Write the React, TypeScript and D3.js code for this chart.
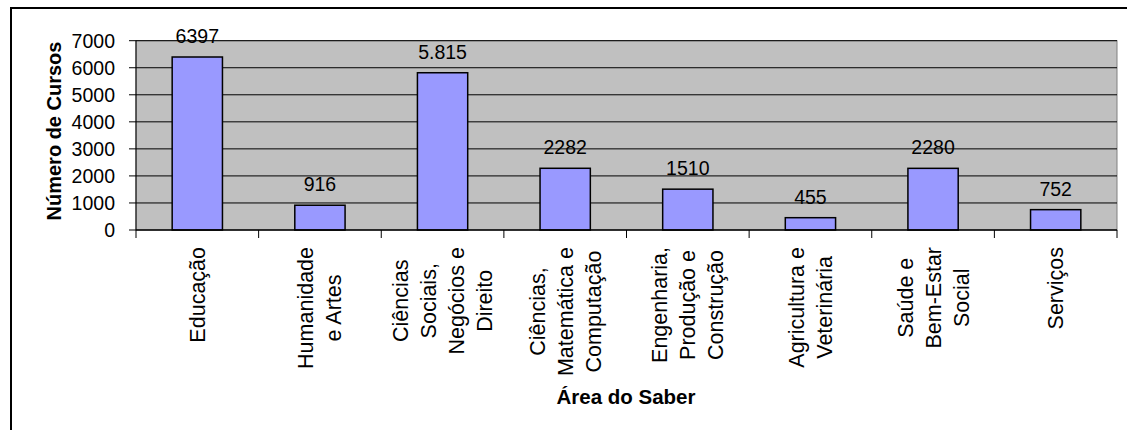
import React from "react";
import * as d3 from "d3";

const categories = [
  ["Educação"],
  ["Humanidade", "e Artes"],
  ["Ciências", "Sociais,", "Negócios e", "Direito"],
  ["Ciências,", "Matemática e", "Computação"],
  ["Engenharia,", "Produção e", "Construção"],
  ["Agricultura e", "Veterinária"],
  ["Saúde e", "Bem-Estar", "Social"],
  ["Serviços"],
];
const values = [6397, 916, 5815, 2282, 1510, 455, 2280, 752];
const valueLabels = ["6397", "916", "5.815", "2282", "1510", "455", "2280", "752"];
const yTicks = [0, 1000, 2000, 3000, 4000, 5000, 6000, 7000];

const FONT = '"Liberation Sans", Arial, sans-serif';
const catSize = 21.5;

let ctx: CanvasRenderingContext2D | null = null;
function textWidth(s: string, size: number) {
  if (!ctx) ctx = document.createElement("canvas").getContext("2d");
  if (!ctx) return s.length * size * 0.55;
  ctx.font = `${size}px "Liberation Sans", Arial`;
  return ctx.measureText(s).width;
}

export default function App() {
  const left = 136;
  const right = 1117;
  const top = 40.7;
  const bottom = 230;

  const x = d3
    .scaleBand<number>()
    .domain(d3.range(values.length))
    .range([left, right])
    .padding(0);
  const y = d3.scaleLinear().domain([0, 7000]).range([bottom, top]);
  const barW = x.bandwidth() * 0.41;

  return (
    <svg
      width={1127}
      height={430}
      style={{ position: "absolute", left: 0, top: 0, fontFamily: FONT }}
    >
      <rect x={0} y={0} width={1127} height={430} fill="#fff" />
      <rect x={11} y={8} width={1130} height={440} fill="none" stroke="#000" strokeWidth={2} />

      <rect x={left} y={top} width={right - left} height={bottom - top} fill="#c0c0c0" stroke="#808080" strokeWidth={1} />
      {yTicks.slice(1).map((t) => (
        <line key={t} x1={left} x2={right} y1={y(t)} y2={y(t)} stroke="#000" strokeWidth={1} />
      ))}

      {values.map((v, i) => {
        const cx = (x(i) as number) + x.bandwidth() / 2;
        return (
          <g key={i}>
            <rect
              x={cx - barW / 2}
              y={y(v)}
              width={barW}
              height={bottom - y(v)}
              fill="#9999ff"
              stroke="#000"
              strokeWidth={1.5}
            />
            <text x={cx} y={y(v) - 14} textAnchor="middle" fontSize={19.5} fill="#000">
              {valueLabels[i]}
            </text>
          </g>
        );
      })}

      {/* axes */}
      <line x1={left} x2={left} y1={top} y2={bottom} stroke="#000" strokeWidth={1} />
      <line x1={left} x2={right} y1={bottom} y2={bottom} stroke="#000" strokeWidth={1.5} />
      {yTicks.map((t) => (
        <g key={t}>
          <line x1={left - 7} x2={left} y1={y(t)} y2={y(t)} stroke="#000" />
          <text x={115} y={y(t)} dy="0.36em" textAnchor="end" fontSize={19.5}>
            {t}
          </text>
        </g>
      ))}
      {d3.range(values.length + 1).map((i) => {
        const tx = left + i * x.step();
        return <line key={i} x1={tx} x2={tx} y1={bottom} y2={bottom + 8} stroke="#000" />;
      })}

      {categories.map((lines, i) => {
        const cx = (x(i) as number) + x.bandwidth() / 2;
        const maxW = d3.max(lines, (l) => textWidth(l, catSize)) as number;
        const cy = 247 + maxW / 2;
        const gap = 28;
        return lines.map((l, j) => {
          const lx = cx + (j - (lines.length - 1) / 2) * gap;
          return (
            <text
              key={i + "-" + j}
              transform={`translate(${lx},${cy}) rotate(-90)`}
              textAnchor="middle"
              dy="0.35em"
              fontSize={catSize}
            >
              {l}
            </text>
          );
        });
      })}

      <text
        transform={`translate(61,131) rotate(-90)`}
        textAnchor="middle"
        fontSize={20}
        fontWeight="bold"
      >
        Número de Cursos
      </text>
      <text x={626} y={404} textAnchor="middle" fontSize={20.5} fontWeight="bold">
        Área do Saber
      </text>
    </svg>
  );
}
